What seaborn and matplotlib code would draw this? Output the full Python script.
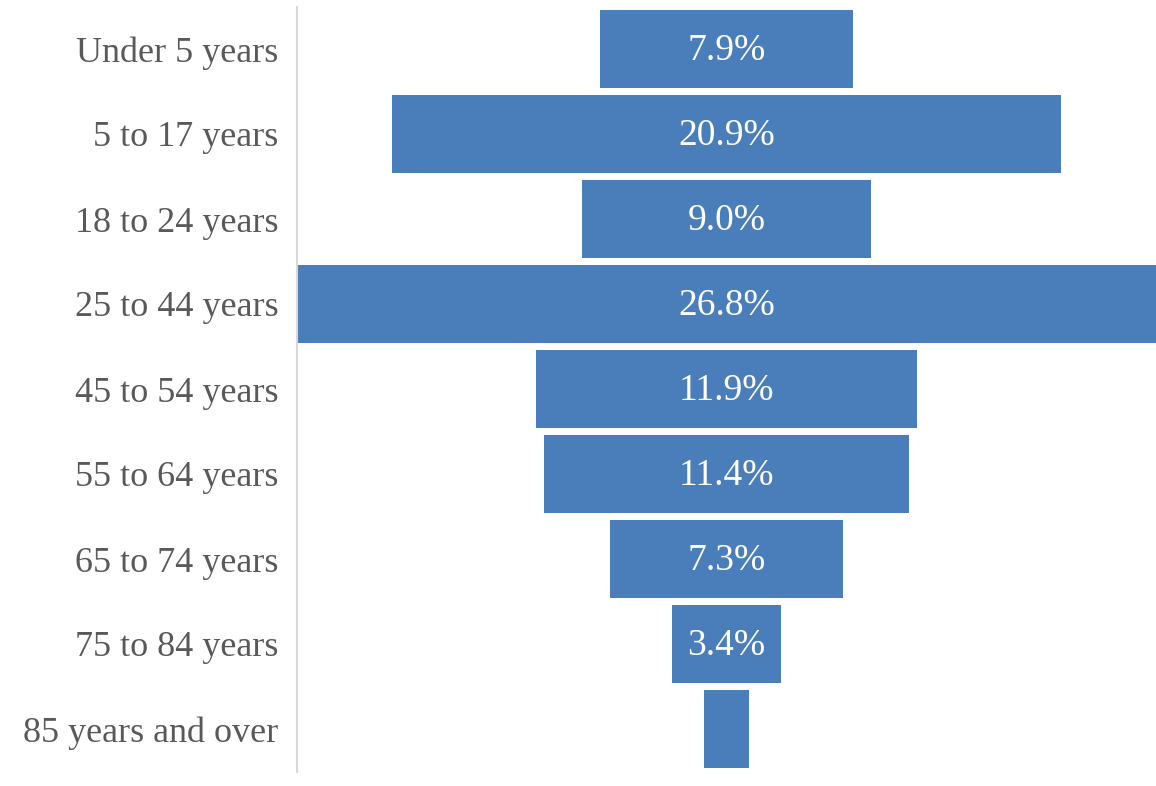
import matplotlib
matplotlib.use("Agg")
import matplotlib.pyplot as plt
import seaborn as sns
import pandas as pd

categories = ["Under 5 years", "5 to 17 years", "18 to 24 years", "25 to 44 years",
              "45 to 54 years", "55 to 64 years", "65 to 74 years", "75 to 84 years",
              "85 years and over"]
values = [7.9, 20.9, 9.0, 26.8, 11.9, 11.4, 7.3, 3.4, 1.4]
labels = ["7.9%", "20.9%", "9.0%", "26.8%", "11.9%", "11.4%", "7.3%", "3.4%", ""]

sns.set_style("white")
plt.rcParams["font.family"] = ["Liberation Serif", "DejaVu Serif"]

df = pd.DataFrame({"cat": categories, "val": values})
fig = plt.figure(figsize=(11.56, 7.86), dpi=100)
ax = fig.add_axes([297/1156, 1 - 771.5/786, (1156-297)/1156, 765/786])

sns.barplot(data=df, x="val", y="cat", color="#4a7ebb", saturation=1, width=0.92, ax=ax)
vmax = max(values)
for p, v, lab in zip(ax.patches, values, labels):
    p.set_x((vmax - v) / 2)
    p.set_edgecolor("none")
    if lab:
        ax.text(vmax / 2, p.get_y() + p.get_height() / 2 + 0.02, lab, ha="center", va="center",
                color="white", fontsize=27)

ax.set_xlim(0, vmax)
ax.set_ylim(8.5, -0.5)
ax.set_xlabel("")
ax.set_ylabel("")
ax.set_xticks([])
ax.tick_params(axis="y", length=0, pad=13.5, labelsize=26, labelcolor="#595959")
for s in ["top", "right", "bottom"]:
    ax.spines[s].set_visible(False)
ax.spines["left"].set_color("#d9d9d9")
ax.spines["left"].set_linewidth(1.5)
ax.spines["left"].set_zorder(5)

fig.savefig("out.png", dpi=100)
